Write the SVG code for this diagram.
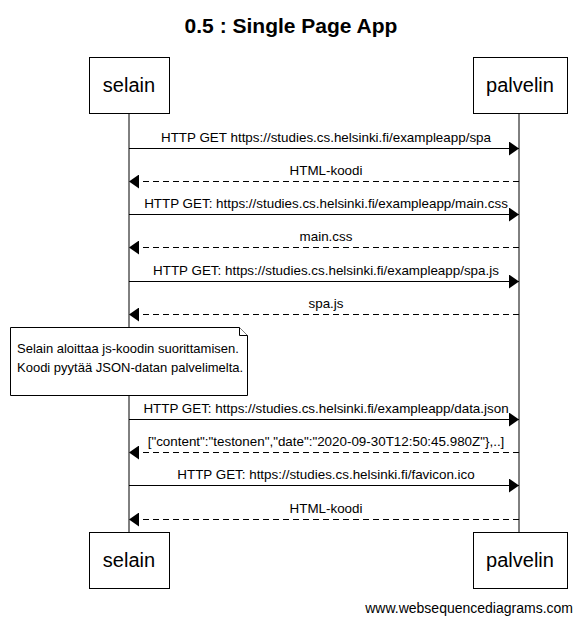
<svg xmlns="http://www.w3.org/2000/svg" width="582" height="624" viewBox="0 0 582 624">
<defs>
<style>
.box{fill:#fff;stroke:#000;stroke-width:1}
.pt{font-family:"Liberation Sans",Arial,sans-serif;font-size:20px;text-anchor:middle;fill:#000}
.msg{font-family:"Liberation Sans",Arial,sans-serif;font-size:13.4px;text-anchor:middle;fill:#000}
.note{font-family:"Liberation Sans",Arial,sans-serif;font-size:13px;fill:#000}
.life{stroke:#000;stroke-width:1}
.req{stroke:#000;stroke-width:1;fill:none}
.resp{stroke:#000;stroke-width:1;fill:none;stroke-dasharray:6,4}
</style>
<marker id="ah" markerWidth="10" markerHeight="14" refX="10" refY="7" orient="auto" markerUnits="userSpaceOnUse">
<path d="M0,0 L10,7 L0,14 Z" fill="#000"/>
</marker>
</defs>
<rect width="582" height="624" fill="#fff"/>
<text x="291" y="33" font-family="Liberation Sans, Arial, sans-serif" font-size="21" font-weight="bold" text-anchor="middle">0.5 : Single Page App</text>
<g id="lifelines">
<line class="life" x1="129" y1="113" x2="129" y2="532"/>
<line class="life" x1="519" y1="113" x2="519" y2="532"/>
</g>
<g id="selain-top"><rect class="box" x="89.5" y="57.5" width="80" height="56"/><text class="pt" x="129" y="92">selain</text></g>
<g id="palvelin-top"><rect class="box" x="473.5" y="57.5" width="94" height="56"/><text class="pt" x="520" y="92">palvelin</text></g>
<g id="connectors">
<line class="req" x1="129" y1="148.5" x2="519" y2="148.5" marker-end="url(#ah)"/>
<text class="msg" x="326" y="142">HTTP GET https://studies.cs.helsinki.fi/exampleapp/spa</text>
<line class="resp" x1="519" y1="181.5" x2="129" y2="181.5" marker-end="url(#ah)"/>
<text class="msg" x="326" y="175">HTML-koodi</text>
<line class="req" x1="129" y1="214.5" x2="519" y2="214.5" marker-end="url(#ah)"/>
<text class="msg" x="326" y="208">HTTP GET: https://studies.cs.helsinki.fi/exampleapp/main.css</text>
<line class="resp" x1="519" y1="247.5" x2="129" y2="247.5" marker-end="url(#ah)"/>
<text class="msg" x="326" y="241">main.css</text>
<line class="req" x1="129" y1="281.5" x2="519" y2="281.5" marker-end="url(#ah)"/>
<text class="msg" x="326" y="275">HTTP GET: https://studies.cs.helsinki.fi/exampleapp/spa.js</text>
<line class="resp" x1="519" y1="314.5" x2="129" y2="314.5" marker-end="url(#ah)"/>
<text class="msg" x="326" y="308">spa.js</text>
<line class="req" x1="129" y1="419.5" x2="519" y2="419.5" marker-end="url(#ah)"/>
<text class="msg" x="326" y="413">HTTP GET: https://studies.cs.helsinki.fi/exampleapp/data.json</text>
<line class="resp" x1="519" y1="452.5" x2="129" y2="452.5" marker-end="url(#ah)"/>
<text class="msg" x="326" y="446">["content":"testonen","date":"2020-09-30T12:50:45.980Z"},..]</text>
<line class="req" x1="129" y1="485.5" x2="519" y2="485.5" marker-end="url(#ah)"/>
<text class="msg" x="326" y="479">HTTP GET: https://studies.cs.helsinki.fi/favicon.ico</text>
<line class="resp" x1="519" y1="519.5" x2="129" y2="519.5" marker-end="url(#ah)"/>
<text class="msg" x="326" y="513">HTML-koodi</text>
</g>
<g id="note">
<path class="box" d="M10.5,327.5 H239.5 L247.5,335.5 V395.5 H10.5 Z"/>
<path class="box" d="M239.5,327.5 V335.5 H247.5" fill="none"/>
<text class="note" x="17" y="353">Selain aloittaa js-koodin suorittamisen.</text>
<text class="note" x="17" y="372">Koodi pyytää JSON-datan palvelimelta.</text>
</g>
<g id="selain-bottom"><rect class="box" x="89.5" y="532.5" width="80" height="56"/><text class="pt" x="129" y="567">selain</text></g>
<g id="palvelin-bottom"><rect class="box" x="473.5" y="532.5" width="94" height="56"/><text class="pt" x="520" y="567">palvelin</text></g>
<text x="573" y="613" font-family="Liberation Sans, Arial, sans-serif" font-size="14" text-anchor="end">www.websequencediagrams.com</text>
</svg>
